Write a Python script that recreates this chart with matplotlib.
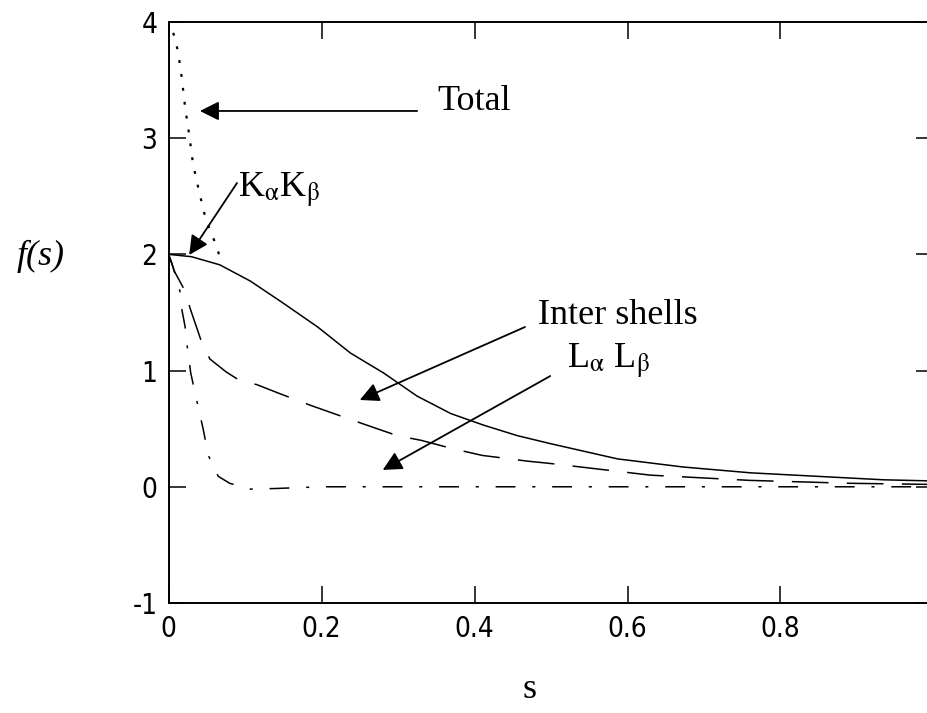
import matplotlib
matplotlib.use("Agg")
import matplotlib.pyplot as plt
from matplotlib import font_manager

s_k = [0, 0.03, 0.067, 0.107, 0.15, 0.195, 0.238, 0.281, 0.325, 0.369, 0.412, 0.456,
       0.5, 0.587, 0.673, 0.761, 0.848, 0.935, 1.0]
f_k = [2.0, 1.98, 1.91, 1.77, 1.58, 1.375, 1.15, 0.98, 0.78, 0.63, 0.53, 0.44,
       0.37, 0.24, 0.17, 0.12, 0.09, 0.06, 0.05]

s_inter = [0, 0.008, 0.022, 0.028, 0.043, 0.054, 0.075, 0.094, 0.115, 0.146, 0.186,
           0.229, 0.255, 0.299, 0.33, 0.37, 0.41, 0.47, 0.5, 0.63, 0.76, 0.89, 1.0]
f_inter = [2.0, 1.85, 1.68, 1.54, 1.25, 1.10, 0.99, 0.91, 0.88, 0.80, 0.70,
           0.60, 0.54, 0.44, 0.40, 0.33, 0.27, 0.22, 0.20, 0.10, 0.055, 0.03, 0.02]

s_l = [0, 0.004, 0.010, 0.015, 0.017, 0.0216, 0.024, 0.029, 0.037, 0.0455, 0.052,
       0.065, 0.080, 0.106, 0.139, 0.2, 0.4, 0.6, 0.8, 1.0]
f_l = [2.0, 1.93, 1.80, 1.68, 1.54, 1.38, 1.23, 0.98, 0.74, 0.49, 0.27,
       0.09, 0.03, -0.02, -0.015, 0.0, 0.0, 0.0, 0.0, 0.0]

s_tot = [0, 0.0085, 0.0128, 0.0173, 0.0216, 0.027, 0.032, 0.040, 0.048, 0.054, 0.061, 0.067]
f_tot = [4.02, 3.86, 3.73, 3.52, 3.27, 3.03, 2.78, 2.54, 2.32, 2.21, 2.10, 1.98]

x_ticks = [0, 0.2, 0.4, 0.6, 0.8]
x_labels = ['0', '0.2', '0.4', '0.6', '0.8']
y_ticks = [-1, 0, 1, 2, 3, 4]

plt.rcParams['mathtext.fontset'] = 'stix'
plt.rcParams['axes.unicode_minus'] = False
serif = ['Liberation Serif', 'DejaVu Serif']

# narrow font for the tick numbers, if a condensed face is around
names = {f.name for f in font_manager.fontManager.ttflist}
if 'Liberation Sans Narrow' in names:
    tick_font = font_manager.FontProperties(family='Liberation Sans Narrow', size=20)
else:
    tick_font = font_manager.FontProperties(family='DejaVu Sans', stretch='condensed', size=20)

fig = plt.figure(figsize=(9.27, 7.13), dpi=100)
ax = fig.add_axes([0.1818, 0.1543, 0.8252, 0.8149])

ax.plot(s_k, f_k, color='black', lw=1.1)
ax.plot(s_inter, f_inter, color='black', lw=1.1, dashes=(24, 12))
ax.plot(s_l, f_l, color='black', lw=1.1, dashes=(13, 11, 2, 11))
ax.plot(s_tot, f_tot, color='black', lw=1.6, dashes=(1.3, 5.0))

ax.set_xlim(0, 1)
ax.set_ylim(-1, 4)
ax.set_xticks(x_ticks)
ax.set_xticklabels(x_labels)
ax.set_yticks(y_ticks)
ax.tick_params(direction='in', length=12, width=1.1, top=True, right=True,
               color='black')
ax.tick_params(axis='x', pad=9)
ax.tick_params(axis='y', pad=8)
for lab in ax.get_xticklabels() + ax.get_yticklabels():
    lab.set_fontproperties(tick_font)
for sp in ax.spines.values():
    sp.set_linewidth(1.4)

arrow = dict(arrowstyle='-|>', mutation_scale=29, lw=1.3, color='black',
             shrinkA=0, shrinkB=0)

# annotations
ax.annotate('', xy=(0.041, 3.234), xytext=(0.325, 3.234), arrowprops=arrow)
ax.text(0.351, 3.243, 'Total', family=serif, fontsize=26, va='baseline')

ax.annotate('', xy=(0.027, 1.995), xytext=(0.0895, 2.614), arrowprops=arrow)
ax.text(0.091, 2.494, r'K$_{\mathrm{\alpha}}$K$_{\mathrm{\beta}}$', family=serif,
        fontsize=26, va='baseline')

ax.annotate('', xy=(0.250, 0.747), xytext=(0.466, 1.375), arrowprops=arrow)
ax.text(0.483, 1.401, 'Inter shells', family=serif, fontsize=26, va='baseline')

ax.annotate('', xy=(0.280, 0.145), xytext=(0.499, 0.953), arrowprops=arrow)
ax.text(0.521, 1.022, r'L$_{\mathrm{\alpha}}$ L$_{\mathrm{\beta}}$', family=serif,
        fontsize=26, va='baseline')

fig.text(41 / 927, 1 - 256 / 713, 'f(s)', family=serif, style='italic', fontsize=26,
         ha='center', va='center')
fig.text(530 / 927, 1 - 690 / 713, 's', family=serif, fontsize=26,
         ha='center', va='center')

fig.savefig('out.png', dpi=100)
